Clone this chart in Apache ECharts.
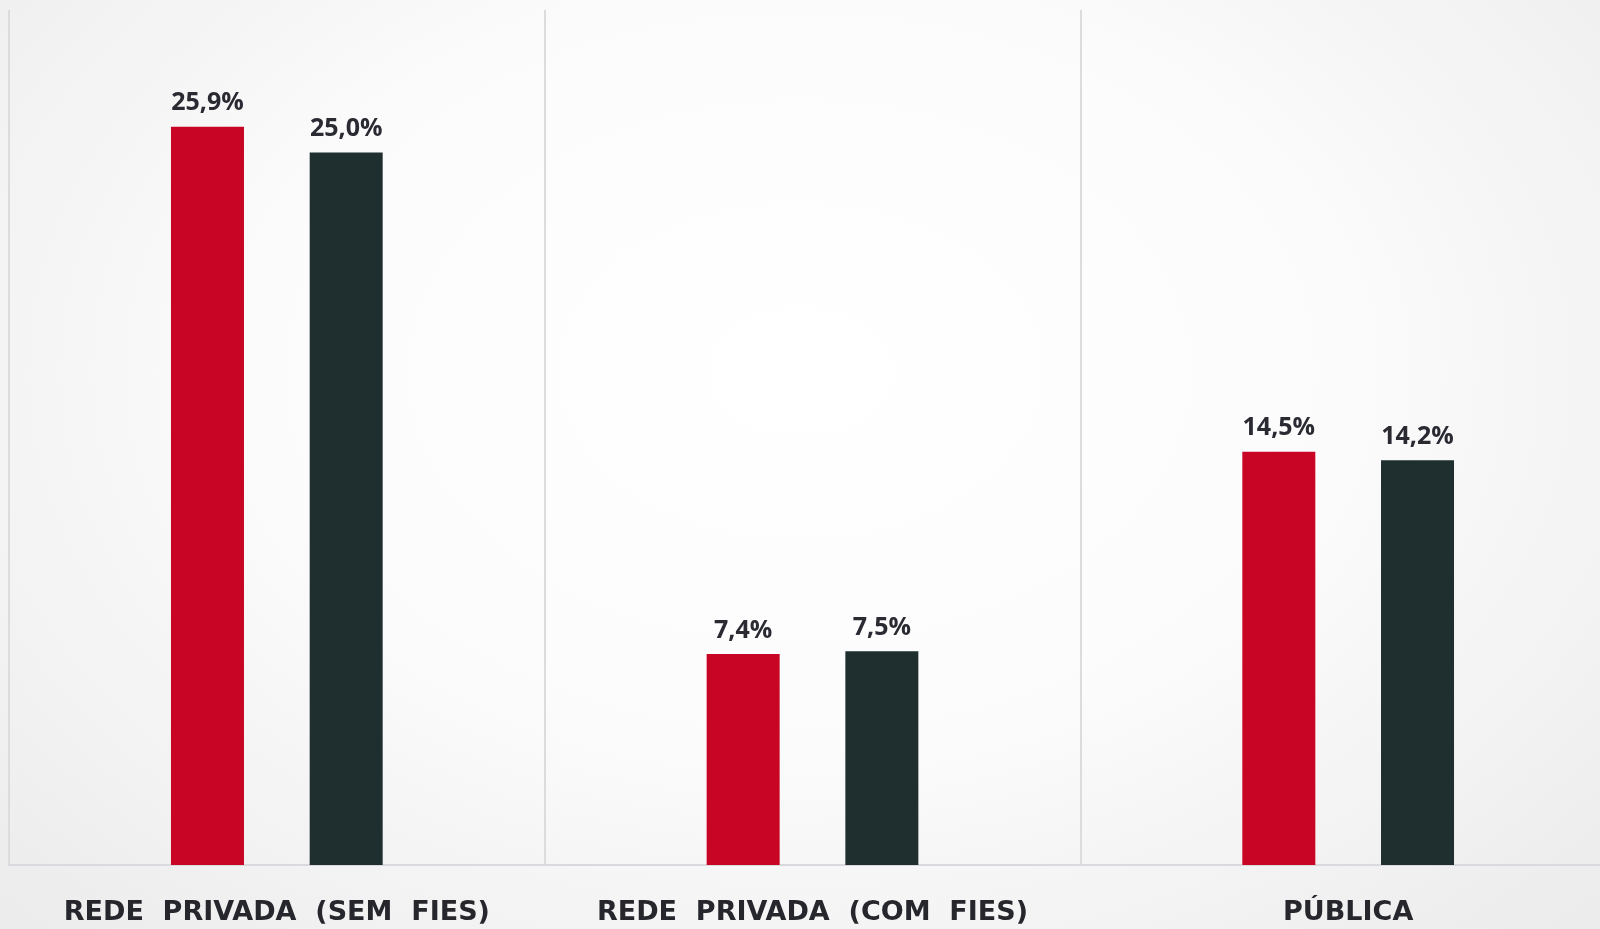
<!DOCTYPE html>
<html>
<head>
<meta charset="utf-8">
<script src="https://cdn.jsdelivr.net/npm/echarts@6/dist/echarts.min.js"></script>
<style>
  html, body { margin: 0; padding: 0; }
  #chart {
    width: 1600px; height: 929px;
    background: radial-gradient(ellipse at 50% 40%, #ffffff 0%, #fcfcfc 45%, #ebebeb 100%);
  }
</style>
</head>
<body>
<div id="chart"></div>
<script>
// categorias e valores (%)
var categories = ['REDE  PRIVADA  (SEM  FIES)', 'REDE  PRIVADA  (COM  FIES)', 'PÚBLICA'];
var serieA = [25.9, 7.4, 14.5];
var serieB = [25.0, 7.5, 14.2];

var chart = echarts.init(document.getElementById('chart'));

function fmt(p) {
  return p.value.toFixed(1).replace('.', ',') + '%';
}

var labelStyle = {
  show: true,
  position: 'top',
  distance: 11,
  formatter: fmt,
  color: '#2a2a33',
  fontFamily: 'Open Sans',
  fontWeight: 'bold',
  fontSize: 25
};

chart.setOption({
  animation: false,
  // a grade passa um pouco da borda direita, como no original
  grid: { left: 9, width: 1607, top: 10, bottom: 64, outerBoundsMode: 'none' },
  xAxis: {
    type: 'category',
    data: categories,
    axisLine: { show: true, lineStyle: { color: '#d9d9de', width: 2 } },
    axisTick: { show: false },
    splitLine: { show: true, interval: 0, lineStyle: { color: '#dcdcdc', width: 2 } },
    axisLabel: {
      interval: 0,
      margin: 34,
      color: '#26262d',
      fontFamily: 'DejaVu Sans',
      fontWeight: 'bold',
      fontSize: 27
    }
  },
  yAxis: {
    type: 'value',
    min: 0,
    max: 30,
    show: false,
    splitLine: { show: false }
  },
  series: [
    {
      name: 'A',
      type: 'bar',
      data: serieA,
      barWidth: 73,
      barGap: '90%',
      itemStyle: { color: '#c80524' },
      label: labelStyle
    },
    {
      name: 'B',
      type: 'bar',
      data: serieB,
      barWidth: 73,
      itemStyle: { color: '#1f2f2f' },
      label: labelStyle
    }
  ]
});
</script>
</body>
</html>
